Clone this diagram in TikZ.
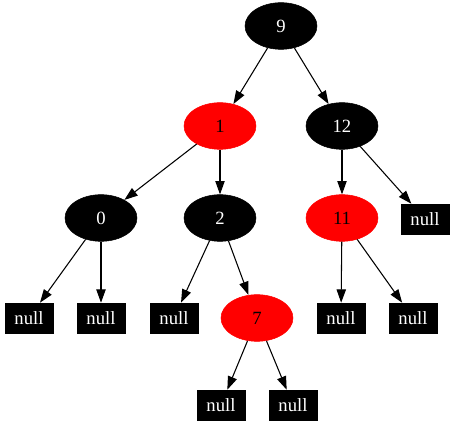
\documentclass[tikz,border=0pt]{standalone}
\usepackage{fontspec}
\setmainfont{Liberation Serif}
\usetikzlibrary{arrows.meta,shapes.geometric}
\tikzset{
  bnode/.style={ellipse, fill=black, draw=black, text=white, minimum width=54pt, minimum height=35pt, inner sep=0pt, font=\fontsize{14pt}{16pt}\selectfont},
  rnode/.style={ellipse, fill=red, draw=red, text=black, minimum width=54pt, minimum height=35pt, inner sep=0pt, font=\fontsize{14pt}{16pt}\selectfont},
  nullbox/.style={rectangle, fill=black, draw=black, text=white, minimum width=36pt, minimum height=22.5pt, inner sep=0pt, font=\fontsize{14pt}{16pt}\selectfont},
  edge/.style={draw=black, line width=0.8pt, -{Triangle[length=10pt,width=7pt]}}
}
\begin{document}
\begin{tikzpicture}[x=0.75pt, y=-0.75pt]
\useasboundingbox (0,0) rectangle (455,427);
\node[bnode] (n9) at (281,26) {9};
\node[rnode] (n1) at (220,126) {1};
\node[bnode] (n12) at (342,126) {12};
\node[bnode] (n0) at (101,218) {0};
\node[bnode] (n2) at (220,218) {2};
\node[rnode] (n11) at (342,218) {11};
\node[nullbox] (z12) at (425,219) {null};
\node[nullbox] (z0a) at (29,318) {null};
\node[nullbox] (z0b) at (101,318) {null};
\node[nullbox] (z2a) at (174,318) {null};
\node[rnode] (n7) at (257,318) {7};
\node[nullbox] (z11a) at (341,318) {null};
\node[nullbox] (z11b) at (413,318) {null};
\node[nullbox] (z7a) at (221,405) {null};
\node[nullbox] (z7b) at (293,405) {null};
\draw[edge] (n9) -- (n1);
\draw[edge] (n9) -- (n12);
\draw[edge] (n1) -- (n0);
\draw[edge] (n1) -- (n2);
\draw[edge] (n12) -- (n11);
\draw[edge] (n12) -- (z12);
\draw[edge] (n0) -- (z0a);
\draw[edge] (n0) -- (z0b);
\draw[edge] (n2) -- (z2a);
\draw[edge] (n2) -- (n7);
\draw[edge] (n11) -- (z11a);
\draw[edge] (n11) -- (z11b);
\draw[edge] (n7) -- (z7a);
\draw[edge] (n7) -- (z7b);
\end{tikzpicture}
\end{document}
